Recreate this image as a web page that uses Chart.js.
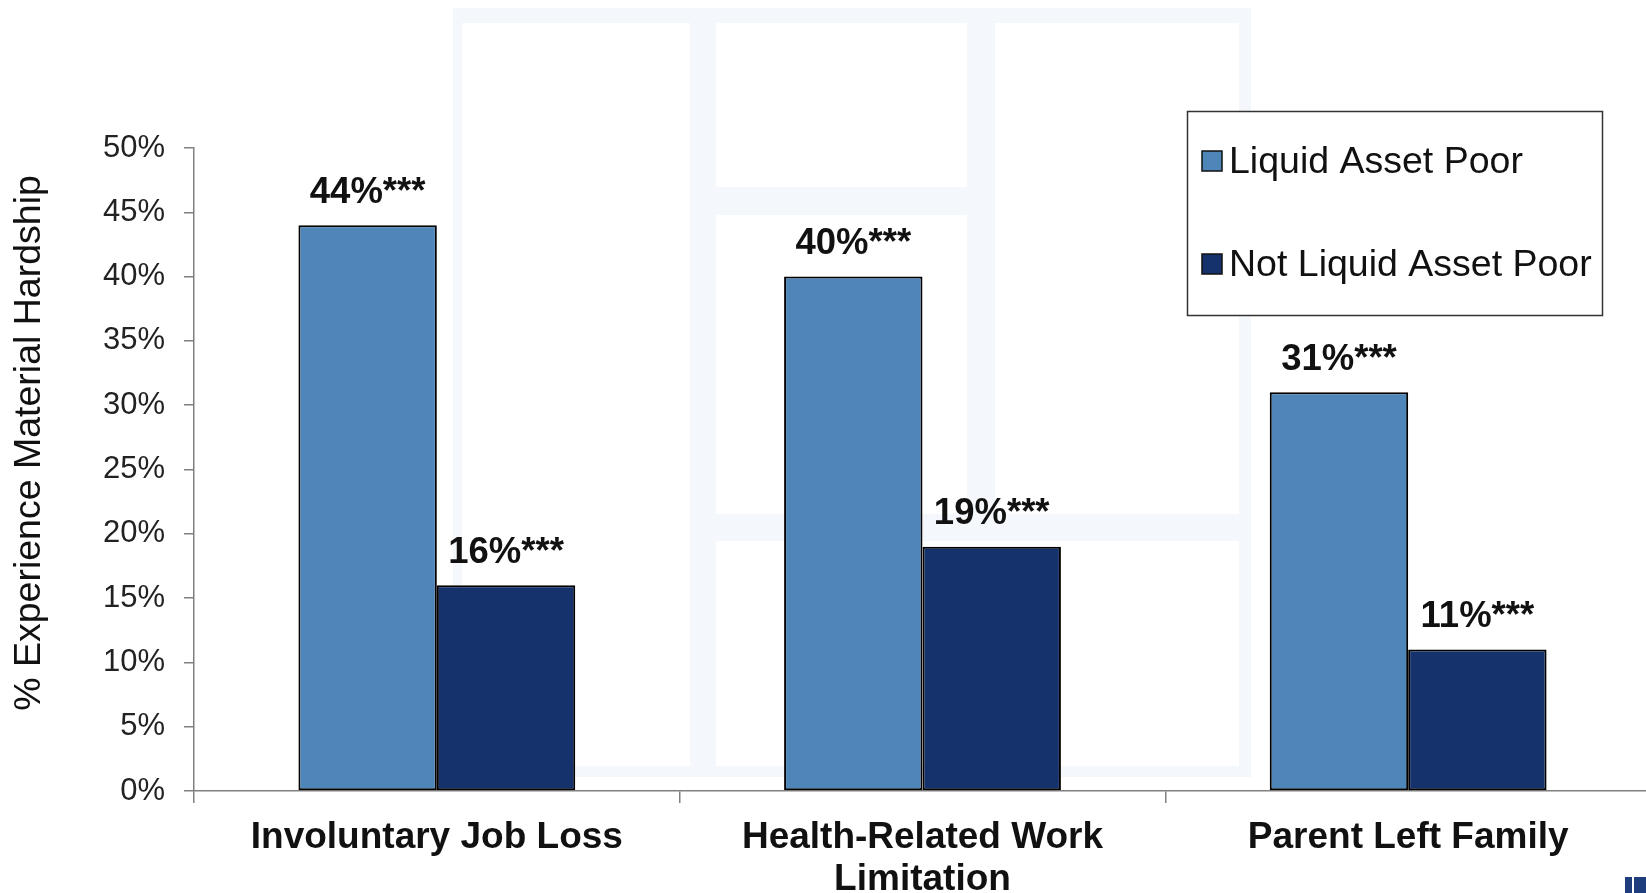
<!DOCTYPE html>
<html>
<head>
<meta charset="utf-8">
<title>Material Hardship by Liquid Asset Status</title>
<script src="https://cdn.jsdelivr.net/npm/chart.js@4.4.0/dist/chart.umd.min.js"></script>
<style>
    html, body {
        margin: 0;
        padding: 0;
        background: #ffffff;
        overflow: hidden;
    }
    #wrap {
        position: relative;
        width: 1651px;
        height: 893px;
    }
    #corner {
        position: absolute;
        left: 1625px;
        top: 877px;
        width: 21px;
        height: 16px;
        background: linear-gradient(to right, #1d3d7d 0 7px, #ffffff 7px 9px, #1d3d7d 9px);
    }
</style>
</head>
<body>
<div id="wrap">
    <canvas id="hardshipChart" width="1651" height="893"></canvas>
    <div id="corner"></div>
</div>
<script>
// Hardship rates after an income shock, by liquid asset status
const categories = [
    ['Involuntary Job Loss'],
    ['Health-Related Work', 'Limitation'],
    ['Parent Left Family']
];
const seriesNames = ['Liquid Asset Poor', 'Not Liquid Asset Poor'];
const liquidAssetPoor = [44, 40, 31];
const notLiquidAssetPoor = [16, 19, 11];
const significance = ['***', '***', '***'];
const yTicks = [0, 5, 10, 15, 20, 25, 30, 35, 40, 45, 50];
const yTitle = '% Experience Material Hardship';

const FONT = "'Liberation Sans', Arial, sans-serif";
const colors = ['#4f86b9', '#15326c'];

// faint window-style panels sitting behind the plot
const backdropPlugin = {
    id: 'backdrop',
    beforeDraw(chart) {
        const ctx = chart.ctx;
        ctx.save();
        ctx.fillStyle = '#f4f7fb';
        ctx.fillRect(453, 8, 798, 769);
        ctx.fillStyle = '#ffffff';
        ctx.fillRect(462, 23, 228, 743);
        ctx.fillRect(716, 23, 251, 164);
        ctx.fillRect(716, 215, 251, 299);
        ctx.fillRect(995, 23, 244, 491);
        ctx.fillRect(716, 541, 523, 225);
        ctx.restore();
    }
};

// value labels above each bar
const valueLabelPlugin = {
    id: 'valueLabels',
    afterDatasetsDraw(chart) {
        const ctx = chart.ctx;
        ctx.save();
        ctx.font = 'bold 36.5px ' + FONT;
        ctx.fillStyle = '#111111';
        ctx.textAlign = 'center';
        ctx.textBaseline = 'bottom';
        chart.data.datasets.forEach((ds, i) => {
            chart.getDatasetMeta(i).data.forEach((bar, j) => {
                ctx.fillText(ds.data[j] + '%' + significance[j], bar.x, bar.y - 14);
            });
        });
        ctx.restore();
    }
};

// rotated y title and boxed legend
const decorPlugin = {
    id: 'decor',
    afterDraw(chart) {
        const ctx = chart.ctx;
        ctx.save();
        ctx.translate(30, 443);
        ctx.rotate(-Math.PI / 2);
        ctx.font = '37.5px ' + FONT;
        ctx.fillStyle = '#111111';
        ctx.textAlign = 'center';
        ctx.textBaseline = 'middle';
        ctx.fillText(yTitle, 0, 0);
        ctx.restore();

        ctx.save();
        ctx.fillStyle = '#ffffff';
        ctx.fillRect(1187, 111, 416, 205);
        ctx.strokeStyle = '#333333';
        ctx.lineWidth = 1.5;
        ctx.strokeRect(1187.5, 111.5, 415, 204);
        ctx.font = '37.5px ' + FONT;
        ctx.textBaseline = 'middle';
        ctx.textAlign = 'left';
        const rows = [161, 264];
        chart.data.datasets.forEach((ds, i) => {
            const y = rows[i];
            ctx.fillStyle = ds.backgroundColor;
            ctx.fillRect(1202, y - 10, 20, 20);
            ctx.strokeStyle = '#111111';
            ctx.lineWidth = 1.5;
            ctx.strokeRect(1202, y - 10, 20, 20);
            ctx.fillStyle = '#111111';
            ctx.fillText(ds.label, 1229, y + 2);
        });
        ctx.restore();
    }
};

new Chart(document.getElementById('hardshipChart'), {
    type: 'bar',
    data: {
        labels: categories,
        datasets: [
            {
                label: seriesNames[0],
                data: liquidAssetPoor,
                backgroundColor: colors[0],
                borderColor: '#000000',
                borderWidth: 2,
                borderSkipped: false
            },
            {
                label: seriesNames[1],
                data: notLiquidAssetPoor,
                backgroundColor: colors[1],
                borderColor: '#000000',
                borderWidth: 2,
                borderSkipped: false
            }
        ]
    },
    options: {
        responsive: false,
        animation: false,
        devicePixelRatio: 1,
        categoryPercentage: 0.57,
        barPercentage: 1,
        layout: {
            padding: { top: 148, left: 0, right: 0, bottom: 0 }
        },
        plugins: {
            legend: { display: false },
            tooltip: { enabled: false }
        },
        scales: {
            x: {
                grid: {
                    offset: true,
                    drawOnChartArea: false,
                    tickLength: 12,
                    color: '#808080',
                    lineWidth: 1.5
                },
                border: { color: '#808080', width: 1.5 },
                ticks: {
                    padding: 14,
                    color: '#111111',
                    font: { family: FONT, size: 37, weight: 'bold', lineHeight: 1.13 },
                    maxRotation: 0,
                    autoSkip: false
                },
                afterFit(scale) {
                    scale.height = 102;
                }
            },
            y: {
                min: 0,
                max: 50,
                afterBuildTicks(scale) {
                    scale.ticks = yTicks.map(v => ({ value: v }));
                },
                grid: {
                    drawOnChartArea: false,
                    tickLength: 10,
                    color: '#808080',
                    lineWidth: 1.5
                },
                border: { color: '#808080', width: 1.5 },
                ticks: {
                    padding: 19,
                    color: '#222222',
                    font: { family: FONT, size: 31 },
                    callback: v => v + '%'
                },
                afterFit(scale) {
                    scale.width = 194;
                }
            }
        }
    },
    plugins: [backdropPlugin, valueLabelPlugin, decorPlugin]
});
</script>
</body>
</html>
